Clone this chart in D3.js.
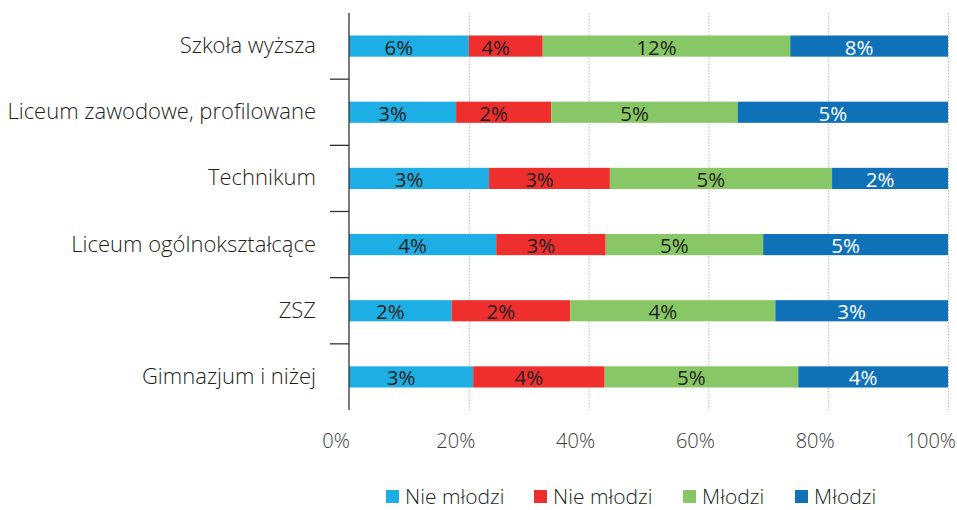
<!DOCTYPE html>
<html>
<head>
<meta charset="utf-8">
<script src="https://cdn.jsdelivr.net/npm/d3@7"></script>
<style>
  body { margin: 0; background: #fff; }
  svg text { font-family: "Open Sans", sans-serif; font-weight: 300; fill: #231f20; }
  svg text.value-label { font-weight: 400; }
</style>
</head>
<body>
<div id="chart"></div>
<script>
// categories top to bottom
var categories = ["Szkoła wyższa", "Liceum zawodowe, profilowane", "Technikum",
    "Liceum ogólnokształcące", "ZSZ", "Gimnazjum i niżej"];

var seriesNames = ["Nie młodzi", "Nie młodzi", "Młodzi", "Młodzi"];
var seriesColors = ["#1caee4", "#ee2f2e", "#88c765", "#0f72b9"];
var labelColors = ["#231f20", "#231f20", "#231f20", "#ffffff"];

// values (percent) per series, in category order
var series1 = [6.0, 2.7, 2.9, 4.3, 1.9, 3.4];
var series2 = [3.7, 2.4, 2.5, 3.2, 2.2, 3.6];
var series3 = [12.4, 4.7, 4.6, 4.6, 3.8, 5.3];
var series4 = [7.9, 5.3, 2.4, 5.4, 3.2, 4.1];

var xTicks = [0, 0.2, 0.4, 0.6, 0.8, 1];

var allSeries = [series1, series2, series3, series4];
var keys = ["s0", "s1", "s2", "s3"];

var rows = categories.map(function(c, i) {
    var r = { cat: c };
    keys.forEach(function(k, j) { r[k] = allSeries[j][i]; });
    return r;
});

var margin = { top: 13, right: 9, bottom: 100, left: 349 };
var width = 957 - margin.left - margin.right,
    height = 410 - margin.top;

var svg = d3.select("#chart").append("svg")
    .attr("width", 957)
    .attr("height", 510);

var g = svg.append("g")
    .attr("transform", "translate(" + margin.left + "," + margin.top + ")");

var x = d3.scaleLinear().domain([0, 1]).range([0, width]);
var y = d3.scaleBand().domain(categories).range([0, height])
    .paddingInner(0.68).paddingOuter(0.34);

// gridlines
g.selectAll(".grid")
    .data(xTicks.slice(1))
    .enter().append("line")
    .attr("class", "grid")
    .attr("x1", function(d) { return x(d) + 0.5; })
    .attr("x2", function(d) { return x(d) + 0.5; })
    .attr("y1", 0)
    .attr("y2", height)
    .attr("stroke", "#b8b8b8")
    .attr("stroke-width", 1)
    .attr("stroke-dasharray", "1.5,1.5");

// stacked bars
var stack = d3.stack().keys(keys).offset(d3.stackOffsetExpand);
var layers = stack(rows);

var layer = g.selectAll(".layer")
    .data(layers)
    .enter().append("g")
    .attr("class", "layer")
    .attr("fill", function(d, i) { return seriesColors[i]; });

layer.selectAll("rect")
    .data(function(d) { return d; })
    .enter().append("rect")
    .attr("x", function(d) { return x(d[0]); })
    .attr("y", function(d) { return y(d.data.cat); })
    .attr("width", function(d) { return x(d[1]) - x(d[0]); })
    .attr("height", y.bandwidth());

// value labels
layer.each(function(l, i) {
    d3.select(this).selectAll("text")
        .data(l)
        .enter().append("text")
        .attr("class", "value-label")
        .attr("x", function(d) { return (x(d[0]) + x(d[1])) / 2 - 10; })
        .attr("y", function(d) { return y(d.data.cat) + y.bandwidth() / 2 + 8.5; })
        .attr("text-anchor", "middle")
        .style("font-size", "20.5px")
        .style("fill", labelColors[i])
        .text(function(d) { return Math.round(d.data[l.key]) + "%"; });
});

// y axis line and band ticks
g.append("line")
    .attr("x1", 0).attr("x2", 0)
    .attr("y1", 0).attr("y2", height)
    .attr("stroke", "#333")
    .attr("stroke-width", 1.3);

g.selectAll(".band-tick")
    .data(categories.slice(1))
    .enter().append("line")
    .attr("class", "band-tick")
    .attr("x1", -19).attr("x2", 0)
    .attr("y1", function(d) { return y(d) - y.step() * y.paddingInner() / 2; })
    .attr("y2", function(d) { return y(d) - y.step() * y.paddingInner() / 2; })
    .attr("stroke", "#333")
    .attr("stroke-width", 1.3);

g.selectAll(".cat-label")
    .data(categories)
    .enter().append("text")
    .attr("class", "cat-label")
    .attr("x", -33)
    .attr("y", function(d) { return y(d) + y.bandwidth() / 2 + 7; })
    .attr("text-anchor", "end")
    .style("font-size", "22px")
    .text(function(d) { return d; });

// x tick labels
g.selectAll(".x-label")
    .data(xTicks)
    .enter().append("text")
    .attr("class", "x-label")
    .attr("y", 448 - margin.top)
    .attr("text-anchor", "middle")
    .style("font-size", "20px")
    .style("fill", "#3a3a3a")
    .text(d3.format(".0%"))
    .attr("x", function(d) {
        var half = this.getComputedTextLength() / 2;
        return Math.min(x(d) - 13, 957 - margin.left - half - 1);
    });

// legend
var legendX = [386, 534, 683, 795];
var legend = svg.selectAll(".legend")
    .data(seriesNames)
    .enter().append("g")
    .attr("class", "legend")
    .attr("transform", function(d, i) { return "translate(" + legendX[i] + ",490)"; });

legend.append("rect")
    .attr("width", 13).attr("height", 13)
    .attr("fill", function(d, i) { return seriesColors[i]; });

legend.append("text")
    .attr("x", 19)
    .attr("y", 13.5)
    .style("font-size", "21px")
    .text(function(d) { return d; });
</script>
</body>
</html>
